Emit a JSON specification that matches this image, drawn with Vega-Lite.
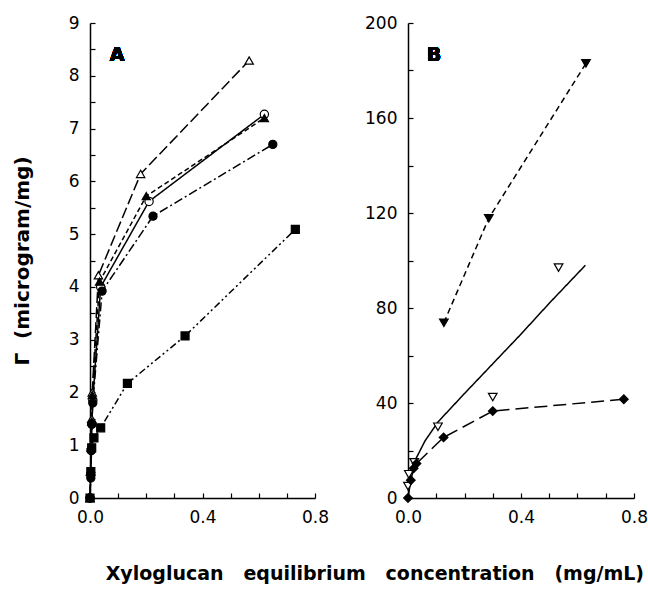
{
  "$schema": "https://vega.github.io/schema/vega-lite/v6.json",
  "background": "white",
  "padding": {"left": 12, "top": 14, "right": 5, "bottom": 5},
  "config": {
    "view": {"stroke": null},
    "axis": {"domainColor": "black", "tickColor": "black", "labelColor": "black", "grid": false, "tickSize": -5, "domainWidth": 1.5, "tickWidth": 1.2, "labelFont": "DejaVu Sans", "labelFontSize": 17, "titleFont": "DejaVu Sans", "titleFontWeight": "bold", "titleFontSize": 20, "titleColor": "black", "labelFlush": false, "labelOverlap": false},
    "axisX": {"labelPadding": 16},
    "axisY": {"labelPadding": 16},
    "title": {"font": "DejaVu Sans", "fontWeight": "bold", "fontSize": 19, "color": "black"}
  },
  "title": {"text": "Xyloglucan\u00a0\u00a0 equilibrium\u00a0\u00a0 concentration\u00a0\u00a0 (mg/mL)", "orient": "bottom", "anchor": "middle", "offset": 40, "dx": 45},
  "datasets": {
    "pts": [
      {"panel": "A", "series": "A1", "x": 0, "y": 0},
      {"panel": "A", "series": "A1", "x": 0.002, "y": 0.5},
      {"panel": "A", "series": "A1", "x": 0.004, "y": 1.0},
      {"panel": "A", "series": "A1", "x": 0.006, "y": 1.5},
      {"panel": "A", "series": "A1", "x": 0.008, "y": 2.0},
      {"panel": "A", "series": "A1", "x": 0.03, "y": 4.22},
      {"panel": "A", "series": "A1", "x": 0.18, "y": 6.14},
      {"panel": "A", "series": "A1", "x": 0.566, "y": 8.29},
      {"panel": "A", "series": "A2", "x": 0, "y": 0},
      {"panel": "A", "series": "A2", "x": 0.002, "y": 0.45},
      {"panel": "A", "series": "A2", "x": 0.004, "y": 0.9},
      {"panel": "A", "series": "A2", "x": 0.006, "y": 1.4},
      {"panel": "A", "series": "A2", "x": 0.01, "y": 1.85},
      {"panel": "A", "series": "A2", "x": 0.038, "y": 4.0},
      {"panel": "A", "series": "A2", "x": 0.21, "y": 5.62},
      {"panel": "A", "series": "A2", "x": 0.62, "y": 7.27},
      {"panel": "A", "series": "A3", "x": 0, "y": 0},
      {"panel": "A", "series": "A3", "x": 0.002, "y": 0.5},
      {"panel": "A", "series": "A3", "x": 0.004, "y": 0.95},
      {"panel": "A", "series": "A3", "x": 0.006, "y": 1.45},
      {"panel": "A", "series": "A3", "x": 0.008, "y": 1.95},
      {"panel": "A", "series": "A3", "x": 0.034, "y": 4.1},
      {"panel": "A", "series": "A3", "x": 0.2, "y": 5.72},
      {"panel": "A", "series": "A3", "x": 0.62, "y": 7.2},
      {"panel": "A", "series": "A4", "x": 0, "y": 0},
      {"panel": "A", "series": "A4", "x": 0.003, "y": 0.38},
      {"panel": "A", "series": "A4", "x": 0.005, "y": 0.9},
      {"panel": "A", "series": "A4", "x": 0.007, "y": 1.4},
      {"panel": "A", "series": "A4", "x": 0.01, "y": 1.8},
      {"panel": "A", "series": "A4", "x": 0.043, "y": 3.92},
      {"panel": "A", "series": "A4", "x": 0.224, "y": 5.34},
      {"panel": "A", "series": "A4", "x": 0.65, "y": 6.7},
      {"panel": "A", "series": "A5", "x": 0, "y": 0},
      {"panel": "A", "series": "A5", "x": 0.003, "y": 0.5},
      {"panel": "A", "series": "A5", "x": 0.006, "y": 0.95},
      {"panel": "A", "series": "A5", "x": 0.014, "y": 1.14},
      {"panel": "A", "series": "A5", "x": 0.038, "y": 1.33},
      {"panel": "A", "series": "A5", "x": 0.133, "y": 2.17},
      {"panel": "A", "series": "A5", "x": 0.338, "y": 3.07},
      {"panel": "A", "series": "A5", "x": 0.73, "y": 5.09},
      {"panel": "B", "series": "B1", "x": 0.127, "y": 73.8},
      {"panel": "B", "series": "B1", "x": 0.286, "y": 117.8},
      {"panel": "B", "series": "B1", "x": 0.63, "y": 183},
      {"panel": "B", "series": "B2", "x": 0.0, "y": 5},
      {"panel": "B", "series": "B2", "x": 0.003, "y": 10},
      {"panel": "B", "series": "B2", "x": 0.022, "y": 15},
      {"panel": "B", "series": "B2", "x": 0.106, "y": 30},
      {"panel": "B", "series": "B2", "x": 0.3, "y": 42.5},
      {"panel": "B", "series": "B2", "x": 0.533, "y": 97},
      {"panel": "B", "series": "B3", "x": 0, "y": 0},
      {"panel": "B", "series": "B3", "x": 0.01, "y": 7.5},
      {"panel": "B", "series": "B3", "x": 0.02, "y": 12.5},
      {"panel": "B", "series": "B3", "x": 0.03, "y": 14.5},
      {"panel": "B", "series": "B3", "x": 0.126, "y": 25.5},
      {"panel": "B", "series": "B3", "x": 0.3, "y": 36.6},
      {"panel": "B", "series": "B3", "x": 0.764, "y": 41.6},
      {"panel": "B", "series": "Bfit", "x": 0, "y": 6},
      {"panel": "B", "series": "Bfit", "x": 0.01, "y": 11},
      {"panel": "B", "series": "Bfit", "x": 0.03, "y": 17},
      {"panel": "B", "series": "Bfit", "x": 0.06, "y": 24},
      {"panel": "B", "series": "Bfit", "x": 0.106, "y": 32},
      {"panel": "B", "series": "Bfit", "x": 0.2, "y": 44},
      {"panel": "B", "series": "Bfit", "x": 0.3, "y": 56.5},
      {"panel": "B", "series": "Bfit", "x": 0.4, "y": 69},
      {"panel": "B", "series": "Bfit", "x": 0.5, "y": 82},
      {"panel": "B", "series": "Bfit", "x": 0.628, "y": 98}
    ]
  },
  "spacing": 35,
  "resolve": {"scale": {"shape": "independent", "fill": "independent", "size": "independent", "strokeDash": "independent"}},
  "hconcat": [
    {
      "width": 225,
      "height": 475,
      "data": {"name": "pts"},
      "transform": [{"filter": "datum.panel == 'A'"}],
      "encoding": {
        "x": {"field": "x", "type": "quantitative", "scale": {"domain": [0, 0.8], "nice": false, "zero": false}, "axis": {"title": null, "values": [0, 0.1, 0.2, 0.3, 0.4, 0.5, 0.6, 0.7, 0.8], "labelExpr": "round(datum.value*10) % 4 == 0 ? format(datum.value, '.1f') : ''"}},
        "y": {"field": "y", "type": "quantitative", "scale": {"domain": [0, 9], "nice": false}, "axis": {"title": "Γ\u00a0 (microgram/mg)", "titlePadding": 36, "values": [0, 0.5, 1, 1.5, 2, 2.5, 3, 3.5, 4, 4.5, 5, 5.5, 6, 6.5, 7, 7.5, 8, 8.5, 9], "labelExpr": "datum.value % 1 == 0 ? format(datum.value, 'd') : ''"}}
      },
      "layer": [
        {
          "mark": {"type": "line", "stroke": "black", "strokeWidth": 1.5},
          "encoding": {
            "detail": {"field": "series"},
            "strokeDash": {"field": "series", "scale": {"domain": ["A1", "A2", "A3", "A4", "A5"], "range": [[11, 4], [1, 0], [5, 3], [9, 3, 2, 3], [7, 3, 2, 3, 2, 3]]}, "legend": null}
          }
        },
        {
          "mark": {"type": "point", "stroke": "black", "strokeWidth": 1.2, "opacity": 1},
          "encoding": {
            "shape": {"field": "series", "scale": {"domain": ["A1", "A2", "A3", "A4", "A5"], "range": ["triangle-up", "circle", "triangle-up", "circle", "square"]}, "legend": null},
            "fill": {"field": "series", "scale": {"domain": ["A1", "A2", "A3", "A4", "A5"], "range": ["white", "white", "black", "black", "black"]}, "legend": null},
            "size": {"field": "series", "scale": {"domain": ["A1", "A2", "A3", "A4", "A5"], "range": [70, 64, 70, 64, 50]}, "legend": null}
          }
        },
        {
          "mark": {"type": "text", "text": "A", "font": "DejaVu Sans", "fontWeight": "bold", "fontSize": 19, "fill": "black", "stroke": null},
          "encoding": {"x": {"datum": 0.096}, "y": {"datum": 8.4}}
        }
      ]
    },
    {
      "width": 226,
      "height": 475,
      "data": {"name": "pts"},
      "transform": [{"filter": "datum.panel == 'B'"}],
      "encoding": {
        "x": {"field": "x", "type": "quantitative", "scale": {"domain": [0, 0.8], "nice": false, "zero": false}, "axis": {"title": null, "values": [0, 0.1, 0.2, 0.3, 0.4, 0.5, 0.6, 0.7, 0.8], "labelExpr": "round(datum.value*10) % 4 == 0 ? format(datum.value, '.1f') : ''"}},
        "y": {"field": "y", "type": "quantitative", "scale": {"domain": [0, 200], "nice": false}, "axis": {"title": null, "values": [0, 20, 40, 60, 80, 100, 120, 140, 160, 180, 200], "labelExpr": "datum.value % 40 == 0 ? format(datum.value, 'd') : ''"}}
      },
      "layer": [
        {
          "transform": [{"filter": "datum.series != 'B2'"}],
          "mark": {"type": "line", "stroke": "black", "strokeWidth": 1.5},
          "encoding": {
            "detail": {"field": "series"},
            "strokeDash": {"field": "series", "scale": {"domain": ["B1", "B3", "Bfit"], "range": [[6, 4], [13, 6], [1, 0]]}, "legend": null}
          }
        },
        {
          "transform": [{"filter": "datum.series != 'Bfit'"}],
          "mark": {"type": "point", "stroke": "black", "strokeWidth": 1.2, "opacity": 1},
          "encoding": {
            "shape": {"field": "series", "scale": {"domain": ["B1", "B2", "B3"], "range": ["triangle-down", "triangle-down", "diamond"]}, "legend": null},
            "fill": {"field": "series", "scale": {"domain": ["B1", "B2", "B3"], "range": ["black", "white", "black"]}, "legend": null},
            "size": {"field": "series", "scale": {"domain": ["B1", "B2", "B3"], "range": [75, 75, 70]}, "legend": null}
          }
        },
        {
          "mark": {"type": "text", "text": "B", "font": "DejaVu Sans", "fontWeight": "bold", "fontSize": 19, "fill": "black", "stroke": null},
          "encoding": {"x": {"datum": 0.092}, "y": {"datum": 186.5}}
        }
      ]
    }
  ]
}
